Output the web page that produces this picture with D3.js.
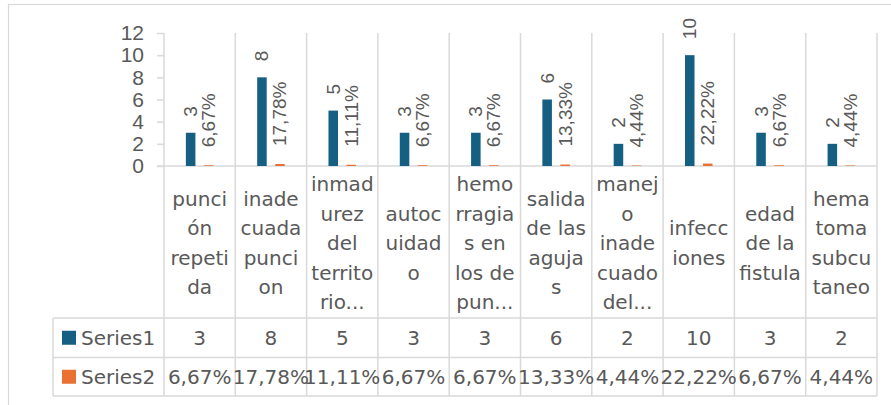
<!DOCTYPE html>
<html>
<head>
<meta charset="utf-8">
<script src="https://cdn.jsdelivr.net/npm/d3@7"></script>
<style>
  body { margin: 0; background: #fff; }
  svg { display: block; }
</style>
</head>
<body>
<div id="chart"></div>
<script>
// category labels, wrapped the way the chart shows them
const categories = [
  ["punci", "ón", "repeti", "da"],
  ["inade", "cuada", "punci", "on"],
  ["inmad", "urez", "del", "territo", "rio..."],
  ["autoc", "uidad", "o"],
  ["hemo", "rragia", "s en", "los de", "pun..."],
  ["salida", "de las", "aguja", "s"],
  ["manej", "o", "inade", "cuado", "del..."],
  ["infecc", "iones"],
  ["edad", "de la", "fistula"],
  ["hema", "toma", "subcu", "taneo"]
];
const series1 = [3, 8, 5, 3, 3, 6, 2, 10, 3, 2];
const series2 = [0.0667, 0.1778, 0.1111, 0.0667, 0.0667, 0.1333, 0.0444, 0.2222, 0.0667, 0.0444];
const seriesNames = ["Series1", "Series2"];
const yTicks = [0, 2, 4, 6, 8, 10, 12];

const width = 891;
const height = 405;
const colors = { Series1: "#156082", Series2: "#E97132" };
const gridColor = "#d9d9d9";
const textColor = "#595959";
const tableFont = "'DejaVu Sans', sans-serif";
const tableSize = 20;
const axisFont = "'Liberation Sans', Arial, sans-serif";

const pctFmt = (v) => (v * 100).toFixed(2).replace(".", ",") + "%";

const plotTop = 33, plotBottom = 166;
const tableLeft = 53, rowTop = 318, rowMid = 357.5, rowBottom = 396;

const ids = categories.map((d, i) => i);
const x0 = d3.scaleBand().domain(ids).range([164, 877]);
const x1 = d3.scaleBand().domain(seriesNames)
  .range([0, x0.bandwidth()])
  .paddingInner(0.47)
  .paddingOuter(1.215);
const y = d3.scaleLinear().domain([0, 12]).range([plotBottom, plotTop]);

const svg = d3.select("#chart").append("svg")
  .attr("width", width)
  .attr("height", height);

// chart border
svg.append("rect")
  .attr("x", 8.5).attr("y", 4.5)
  .attr("width", 920).attr("height", 420)
  .attr("fill", "none")
  .attr("stroke", gridColor)
  .attr("stroke-width", 1.2);

// y axis
const yAxis = svg.append("g")
  .attr("transform", `translate(${x0.range()[0]},0)`)
  .call(d3.axisLeft(y).tickValues(yTicks).tickSize(7).tickPadding(13));
yAxis.select(".domain").remove();
yAxis.selectAll(".tick line").attr("stroke", gridColor).attr("stroke-width", 1.5);
yAxis.selectAll(".tick text")
  .attr("fill", textColor)
  .attr("font-family", axisFont)
  .attr("font-size", 21);

// table / grid lines
const grid = svg.append("g")
  .attr("stroke", gridColor)
  .attr("stroke-width", 1.5);

grid.append("line")
  .attr("x1", x0.range()[0] - 7).attr("x2", x0.range()[1])
  .attr("y1", plotBottom).attr("y2", plotBottom);

grid.selectAll("line.sep")
  .data(ids.concat([ids.length]))
  .join("line")
  .attr("class", "sep")
  .attr("x1", (d) => x0.range()[0] + d * x0.step())
  .attr("x2", (d) => x0.range()[0] + d * x0.step())
  .attr("y1", plotTop)
  .attr("y2", rowBottom);

grid.selectAll("line.row")
  .data([rowTop, rowMid, rowBottom])
  .join("line")
  .attr("class", "row")
  .attr("x1", tableLeft).attr("x2", x0.range()[1])
  .attr("y1", (d) => d).attr("y2", (d) => d);

grid.append("line")
  .attr("x1", tableLeft).attr("x2", tableLeft)
  .attr("y1", rowTop).attr("y2", rowBottom);

// bars
const groups = svg.append("g")
  .selectAll("g")
  .data(ids)
  .join("g")
  .attr("transform", (i) => `translate(${x0(i)},0)`);

const barData = (i) => [
  { key: "Series1", value: series1[i], label: String(series1[i]), gap: 16 },
  { key: "Series2", value: series2[i], label: pctFmt(series2[i]), gap: 18 }
];

groups.selectAll("rect")
  .data(barData)
  .join("rect")
  .attr("x", (d) => x1(d.key))
  .attr("y", (d) => y(d.value))
  .attr("width", x1.bandwidth())
  .attr("height", (d) => y(0) - y(d.value))
  .attr("fill", (d) => colors[d.key]);

groups.selectAll("text")
  .data(barData)
  .join("text")
  .attr("transform", (d) => `translate(${x1(d.key) + x1.bandwidth() / 2},${y(d.value) - d.gap}) rotate(-90)`)
  .attr("text-anchor", "start")
  .attr("dominant-baseline", "central")
  .attr("font-family", axisFont)
  .attr("font-size", 19)
  .attr("fill", textColor)
  .text((d) => d.label);

// category labels
const lineH = 29.5;
const labelCenter = 243;
svg.append("g")
  .selectAll("text")
  .data(ids)
  .join("text")
  .attr("font-family", tableFont)
  .attr("font-size", tableSize)
  .attr("fill", textColor)
  .attr("text-anchor", "middle")
  .each(function (i) {
    const lines = categories[i];
    const start = labelCenter - (lines.length - 1) * lineH / 2;
    d3.select(this).selectAll("tspan")
      .data(lines)
      .join("tspan")
      .attr("x", x0(i) + x0.bandwidth() / 2)
      .attr("y", (d, k) => start + k * lineH)
      .attr("dominant-baseline", "central")
      .text((d) => d);
  });

// data table rows
const rows = [
  { key: "Series1", cy: (rowTop + rowMid) / 2, values: series1.map(String) },
  { key: "Series2", cy: (rowMid + rowBottom) / 2, values: series2.map(pctFmt) }
];

const row = svg.append("g")
  .selectAll("g")
  .data(rows)
  .join("g");

row.append("rect")
  .attr("x", 62).attr("y", (d) => d.cy - 7)
  .attr("width", 14).attr("height", 14)
  .attr("fill", (d) => colors[d.key]);

row.append("text")
  .attr("x", 81).attr("y", (d) => d.cy)
  .attr("dominant-baseline", "central")
  .attr("font-family", tableFont)
  .attr("font-size", tableSize)
  .attr("fill", textColor)
  .text((d) => d.key);

row.selectAll("text.val")
  .data((d) => d.values.map((v, i) => ({ v, i, cy: d.cy })))
  .join("text")
  .attr("class", "val")
  .attr("x", (d) => x0(d.i) + x0.bandwidth() / 2)
  .attr("y", (d) => d.cy)
  .attr("text-anchor", "middle")
  .attr("dominant-baseline", "central")
  .attr("font-family", tableFont)
  .attr("font-size", tableSize)
  .attr("fill", textColor)
  .text((d) => d.v);
</script>
</body>
</html>
